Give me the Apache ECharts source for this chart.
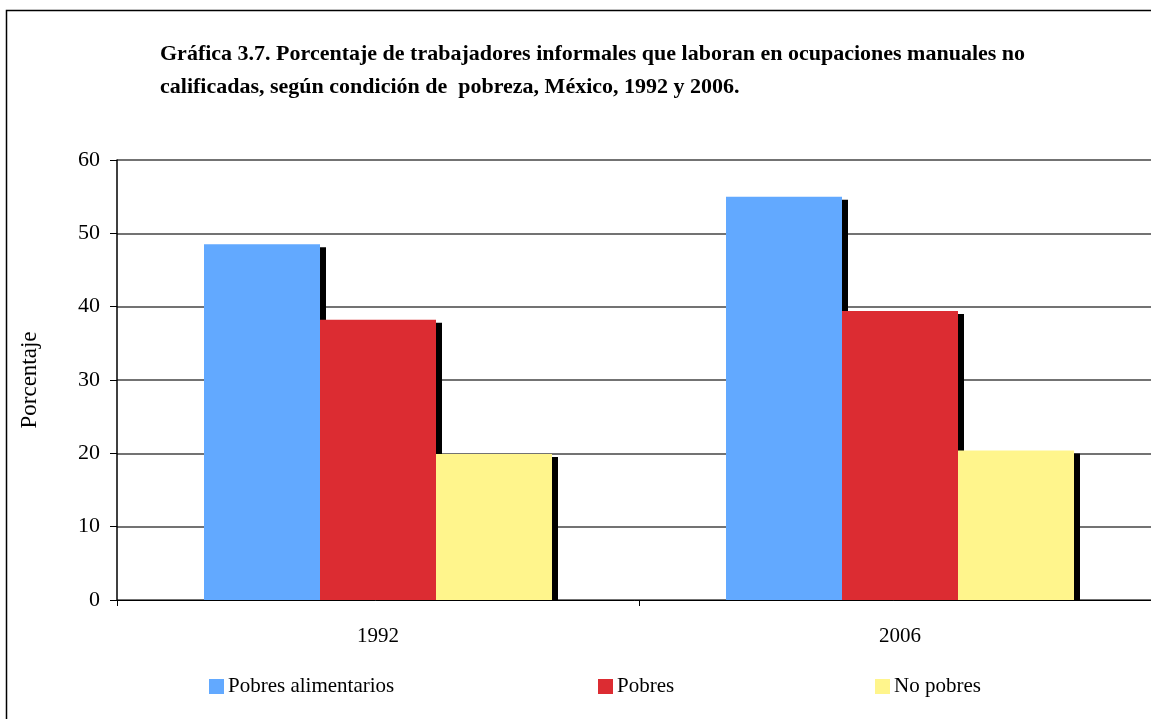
<!DOCTYPE html>
<html>
<head>
<meta charset="utf-8">
<script src="https://cdn.jsdelivr.net/npm/echarts@6/dist/echarts.min.js"></script>
<style>html,body{margin:0;padding:0;background:#fff;}#c{width:1151px;height:719px;}</style>
</head>
<body>
<div id="c"></div>
<script>
const categories = ['1992', '2006'];
const seriesNames = ['Pobres alimentarios', 'Pobres', 'No pobres'];
const pobresAlimentarios = [48.5, 55.0];
const pobres = [38.2, 39.4];
const noPobres = [19.9, 20.4];
const yTicks = [0, 10, 20, 30, 40, 50, 60];
const titleText = 'Gráfica 3.7. Porcentaje de trabajadores informales que laboran en ocupaciones manuales no\ncalificadas, según condición de  pobreza, México, 1992 y 2006.';

const colors = ['#62A9FF', '#DC2C32', '#FFF58C'];
const serif = '"Liberation Serif", "DejaVu Serif", serif';
const BAR_W = 116;
const allData = [pobresAlimentarios, pobres, noPobres];

const chart = echarts.init(document.getElementById('c'), null, {renderer: 'canvas'});

const barSeries = allData.map((d, i) => ({
  name: seriesNames[i],
  type: 'bar',
  data: d,
  barWidth: BAR_W,
  barGap: '0%',
  z: 3,
  itemStyle: {color: colors[i]}
}));

const shadowSeries = allData.map((d, i) => ({
  type: 'custom',
  silent: true,
  z: 2,
  data: d.map((v, k) => [k, v]),
  renderItem: function (params, api) {
    const cat = api.value(0), val = api.value(1);
    const top = api.coord([cat, val]);
    const base = api.coord([cat, 0]);
    const left = top[0] - 1.5 * BAR_W + i * BAR_W;
    return {
      type: 'rect',
      shape: {x: left + 6, y: top[1] + 3, width: BAR_W, height: base[1] - top[1] - 3},
      style: {fill: '#000'}
    };
  }
}));

const legendLefts = [204, 593, 870];
const legends = seriesNames.map((n, i) => ({
  data: [n],
  left: legendLefts[i],
  top: 671,
  icon: 'rect',
  itemWidth: 15,
  itemHeight: 15,
  itemGap: 0,
  selectedMode: false,
  textStyle: {fontFamily: serif, fontSize: 21, color: '#000', padding: [0, 0, 0, -1]}
}));

chart.setOption({
  animation: false,
  backgroundColor: '#fff',
  color: colors,
  title: {
    text: titleText,
    left: 155,
    top: 33,
    textStyle: {fontFamily: serif, fontWeight: 'bold', fontSize: 22, color: '#000', lineHeight: 33}
  },
  graphic: [{
    type: 'rect',
    shape: {x: 6.5, y: 10.5, width: 1160, height: 720},
    style: {fill: 'none', stroke: '#000', lineWidth: 1.5},
    silent: true
  }],
  legend: legends,
  grid: {left: 117, top: 160, width: 1044, height: 440, containLabel: false, outerBoundsMode: 'none'},
  xAxis: {
    type: 'category',
    data: categories,
    axisLine: {lineStyle: {color: '#000', width: 1}},
    axisTick: {show: true, length: 6, lineStyle: {color: '#000'}},
    axisLabel: {fontFamily: serif, fontSize: 21, color: '#000', margin: 26}
  },
  yAxis: {
    type: 'value',
    min: yTicks[0],
    max: yTicks[yTicks.length - 1],
    interval: 10,
    name: 'Porcentaje',
    nameLocation: 'middle',
    nameGap: 76,
    nameRotate: 90,
    nameTextStyle: {fontFamily: serif, fontSize: 23, color: '#000'},
    axisLine: {show: true, lineStyle: {color: '#000', width: 1.5}},
    axisTick: {show: true, length: 7, lineStyle: {color: '#000'}},
    axisLabel: {fontFamily: serif, fontSize: 22, color: '#000', margin: 17},
    splitLine: {show: true, lineStyle: {color: '#444', width: 1.5}}
  },
  series: shadowSeries.concat(barSeries)
});
</script>
</body>
</html>
